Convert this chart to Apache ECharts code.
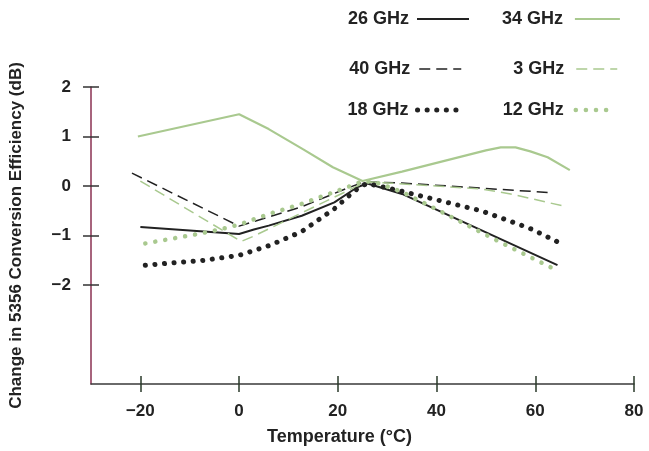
<!DOCTYPE html>
<html>
<head>
<meta charset="utf-8">
<script src="https://cdn.jsdelivr.net/npm/echarts@6/dist/echarts.min.js"></script>
<style>html,body{margin:0;padding:0;background:#fff}#c{width:649px;height:451px}</style>
</head>
<body>
<div id="c"></div>
<script>
// Data
const xTicks = [-20, 0, 20, 40, 60, 80];
const yTicks = [-2, -1, 0, 1, 2];

const t34 = [-20.5, 0, 6, 13, 19, 25, 33, 50, 53, 56, 59, 62.5, 67];
const v34 = [1.0, 1.45, 1.15, 0.74, 0.38, 0.1, 0.29, 0.72, 0.78, 0.78, 0.7, 0.58, 0.32];

const t26 = [-20, 0, 3, 6, 12.7, 19.3, 24, 26, 33, 64.5];
const v26 = [-0.83, -0.97, -0.88, -0.8, -0.6, -0.33, -0.02, 0.05, -0.16, -1.6];

const t40 = [-21.7, 0, 12.7, 22, 25, 27, 33, 62.5];
const v40 = [0.26, -0.81, -0.42, -0.04, 0.07, 0.08, 0.06, -0.13];

const t3 = [-20, 0.4, 2.8, 25, 27, 40, 49, 55, 65.5];
const v3 = [0.1, -1.12, -1.02, 0.05, 0.08, 0.0, -0.06, -0.16, -0.4];

const t18 = [-19, -7, 0, 6.2, 12.7, 19.3, 22.7, 24.7, 26, 32.7, 49, 59, 66];
const v18 = [-1.6, -1.5, -1.4, -1.2, -0.92, -0.46, -0.16, 0.0, 0.05, -0.1, -0.5, -0.86, -1.2];

const t12 = [-19, -10, -4, 0, 6.2, 12.7, 19.3, 24.7, 27, 33, 39, 52.6, 63.5];
const v12 = [-1.16, -1.0, -0.88, -0.78, -0.56, -0.36, -0.12, 0.08, 0.1, -0.12, -0.42, -1.12, -1.66];

const zip = (a, b) => a.map((x, i) => [x, b[i]]);
const fmt = v => (v < 0 ? '\u2212' + Math.abs(v) : String(v));

const BLACK = '#222222';
const GREEN = '#a9c98f';
const FONT = 'Liberation Sans, Arial, Helvetica, sans-serif';

const DOT_BLACK = { width: 5, type: [0.1, 9.5], cap: 'round' };
const DOT_GREEN = { width: 4.5, type: [0.1, 10], cap: 'round' };

function mkSeries(name, t, v, color, style) {
  return {
    name, type: 'line', data: zip(t, v), symbol: 'none', showSymbol: false,
    lineStyle: Object.assign({ color, cap: 'butt' }, style),
    itemStyle: { color },
    emphasis: { disabled: true }, animation: false, z: 3
  };
}

function mkLegend(name, right, top, w, pad, color, style) {
  return {
    data: [name], right, top, padding: 0, align: 'right',
    itemWidth: w, itemHeight: 14, selectedMode: false,
    itemStyle: { opacity: 0 },
    lineStyle: Object.assign({ color, cap: 'butt' }, style),
    textStyle: { fontFamily: FONT, fontWeight: 'bold', fontSize: 18, color: '#222', padding: [0, pad, 0, 0] }
  };
}

const S26 = { width: 2, type: 'solid' };
const S34 = { width: 2.2, type: 'solid' };
const S40 = { width: 1.5, type: [11, 6] };
const S3 = { width: 1.5, type: [11, 6] };

const chart = echarts.init(document.getElementById('c'), null, { renderer: 'canvas' });

const xBase = { type: 'value', min: -30, max: 80, splitLine: { show: false } };
const yBase = { type: 'value', min: -4, max: 2, splitLine: { show: false } };

chart.setOption({
  backgroundColor: '#fff',
  animation: false,
  grid: { left: 85, right: 15, top: 87, bottom: 62 },
  legend: [
    mkLegend('26 GHz', 179, 10, 52, 3, BLACK, S26),
    mkLegend('34 GHz', 28, 10, 45, 7, GREEN, S34),
    mkLegend('40 GHz', 187, 60, 42, 4, BLACK, S40),
    mkLegend('3 GHz', 31, 60, 41, 7, GREEN, S3),
    mkLegend('18 GHz', 187, 101, 42, 4, BLACK, DOT_BLACK),
    mkLegend('12 GHz', 32, 101, 39, 7, GREEN, DOT_GREEN)
  ],
  xAxis: [
    Object.assign({}, xBase, {
      name: 'Temperature (°C)', nameLocation: 'middle', nameGap: 44,
      nameTextStyle: { fontFamily: FONT, fontWeight: 'bold', fontSize: 18, color: '#222', padding: [0, 46, 0, 0] },
      axisLine: { show: true, onZero: false, lineStyle: { color: '#3a3a3a', width: 1.5 } },
      axisTick: { show: true, length: 8, customValues: xTicks, lineStyle: { color: '#2a3a2a', width: 1.5 } },
      axisLabel: { customValues: xTicks, formatter: fmt, margin: 19, fontFamily: FONT, fontWeight: 'bold', fontSize: 17, color: '#222' }
    }),
    Object.assign({}, xBase, {
      position: 'bottom',
      axisLine: { show: false, onZero: false },
      axisTick: { show: true, inside: true, length: 8, customValues: xTicks, lineStyle: { color: '#2a3a2a', width: 1.5 } },
      axisLabel: { show: false }
    })
  ],
  yAxis: [
    Object.assign({}, yBase, {
      name: 'Change in 5356 Conversion Efficiency (dB)', nameLocation: 'middle', nameGap: 66,
      nameTextStyle: { fontFamily: FONT, fontWeight: 'bold', fontSize: 17, color: '#222' },
      axisLine: { show: true, onZero: false, lineStyle: { color: '#8a3052', width: 1.5 } },
      axisTick: { show: true, length: 8, customValues: yTicks, lineStyle: { color: '#333', width: 1.5 } },
      axisLabel: { customValues: yTicks, formatter: fmt, margin: 20, fontFamily: FONT, fontWeight: 'bold', fontSize: 17, color: '#222' }
    }),
    Object.assign({}, yBase, {
      position: 'left',
      axisLine: { show: false, onZero: false },
      axisTick: { show: true, inside: true, length: 8, customValues: yTicks, lineStyle: { color: '#333', width: 1.5 } },
      axisLabel: { show: false }
    })
  ],
  series: [
    mkSeries('26 GHz', t26, v26, BLACK, S26),
    mkSeries('34 GHz', t34, v34, GREEN, S34),
    mkSeries('40 GHz', t40, v40, BLACK, S40),
    mkSeries('3 GHz', t3, v3, GREEN, S3),
    mkSeries('18 GHz', t18, v18, BLACK, DOT_BLACK),
    mkSeries('12 GHz', t12, v12, GREEN, DOT_GREEN)
  ]
});
</script>
</body>
</html>
